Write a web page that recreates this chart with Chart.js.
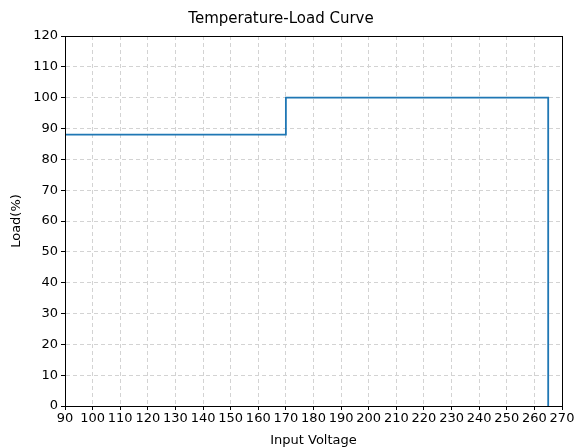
<!DOCTYPE html>
<html>
<head>
<meta charset="utf-8">
<script src="https://cdn.jsdelivr.net/npm/chart.js@4"></script>
<style>
  html, body { margin: 0; padding: 0; background: #fff; }
  #wrap { width: 577px; height: 448px; }
</style>
</head>
<body>
<div id="wrap"><canvas id="chart"></canvas></div>
<script>
const voltage = [90, 170, 170, 265, 265];
const load = [88, 88, 100, 100, 0];
const xTicks = [90, 100, 110, 120, 130, 140, 150, 160, 170, 180, 190, 200, 210, 220, 230, 240, 250, 260, 270];
const yTicks = [0, 10, 20, 30, 40, 50, 60, 70, 80, 90, 100, 110, 120];

const font = "'DejaVu Sans', sans-serif";
const gridColor = "#d3d3d3";

// draws the full box round the plot, like matplotlib
const frame = {
  id: "frame",
  afterDraw(chart) {
    const a = chart.chartArea;
    const ctx = chart.ctx;
    ctx.save();
    ctx.strokeStyle = "#000";
    ctx.lineWidth = 1;
    ctx.setLineDash([]);
    ctx.strokeRect(Math.round(a.left) + 0.5, Math.round(a.top) + 0.5,
      Math.round(a.right - a.left), Math.round(a.bottom - a.top));
    ctx.restore();
  }
};

new Chart(document.getElementById("chart"), {
  type: "line",
  data: {
    datasets: [
      {
        data: voltage.map((v, i) => ({ x: v, y: load[i] })),
        borderColor: "#1f77b4",
        borderWidth: 1.8,
        pointRadius: 0,
        fill: false,
        tension: 0
      }
    ]
  },
  plugins: [frame],
  options: {
    responsive: true,
    maintainAspectRatio: false,
    animation: false,
    layout: {
      padding: { left: 0, right: 15, top: 0, bottom: 0 }
    },
    plugins: {
      legend: { display: false },
      tooltip: { enabled: false },
      title: {
        display: true,
        text: "Temperature-Load Curve",
        color: "#000",
        font: { family: font, size: 15, weight: "normal" },
        padding: { top: 10, bottom: 8 }
      }
    },
    scales: {
      x: {
        type: "linear",
        min: 90,
        max: 270,
        afterBuildTicks: scale => {
          scale.ticks = xTicks.map(v => ({ value: v }));
        },
        afterFit: scale => {
          scale.height = 42;
        },
        ticks: {
          autoSkip: false,
          maxRotation: 0,
          padding: 1,
          color: "#000",
          font: { family: font, size: 13 }
        },
        grid: {
          color: gridColor,
          tickColor: "#000",
          tickLength: 4,
          tickBorderDash: []
        },
        border: { display: true, color: "#000", width: 1, dash: [4, 3] },
        title: {
          display: true,
          text: "Input Voltage",
          color: "#000",
          font: { family: font, size: 13 },
          padding: { top: 0, bottom: 0 }
        }
      },
      y: {
        min: 0,
        max: 120,
        afterBuildTicks: scale => {
          scale.ticks = yTicks.map(v => ({ value: v }));
        },
        afterFit: scale => {
          scale.width = 65;
        },
        ticks: {
          padding: 3,
          color: "#000",
          font: { family: font, size: 13 }
        },
        grid: {
          color: gridColor,
          tickColor: "#000",
          tickLength: 4,
          tickBorderDash: []
        },
        border: { display: true, color: "#000", width: 1, dash: [4, 3] },
        title: {
          display: true,
          text: "Load(%)",
          color: "#000",
          font: { family: font, size: 13 },
          padding: { top: 9, bottom: 0 }
        }
      }
    }
  }
});
</script>
</body>
</html>
